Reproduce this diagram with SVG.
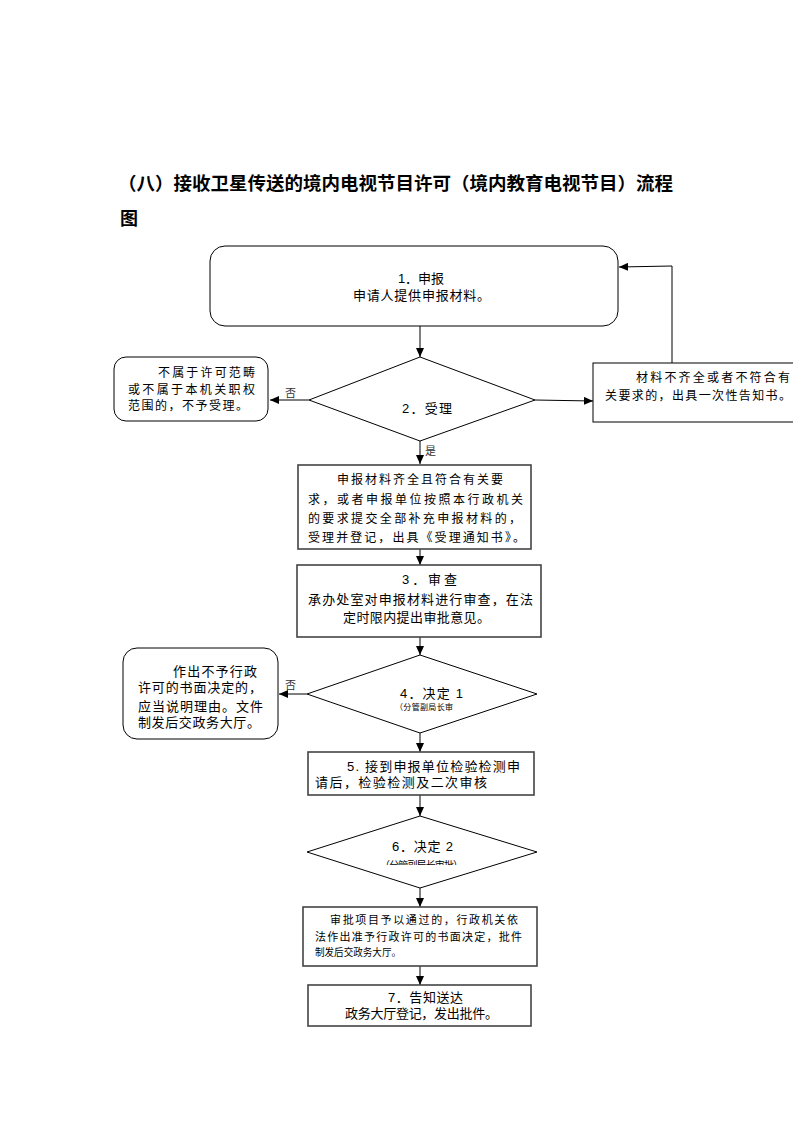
<svg xmlns="http://www.w3.org/2000/svg" width="793" height="1122" viewBox="0 0 793 1122">
<style>
text{font-family:"Liberation Sans","Noto Sans CJK SC",sans-serif;fill:#000}
.t{font-size:12px}
.m{font-size:13px}
.s{font-size:11px}
.lbl{font-size:11px;fill:#333;font-family:"Liberation Serif","Noto Sans CJK SC",serif}
.title{font-size:18px;font-weight:bold;font-family:"Noto Sans CJK SC",sans-serif}
.box{fill:#fff;stroke:#000;stroke-width:1}
.sbox{fill:#fff;stroke:#444;stroke-width:1.6}
.ln{fill:none;stroke:#000;stroke-width:1}
</style>
<defs>
<marker id="ah" markerUnits="userSpaceOnUse" markerWidth="10" markerHeight="8" refX="9" refY="4" orient="auto">
<path d="M0,0 L9,4 L0,8 z" fill="#000"/>
</marker>
<clipPath id="c6"><rect x="370" y="855" width="110" height="10"/></clipPath>
</defs>
<rect width="793" height="1122" fill="#fff"/>
<g id="title">
<text class="title" x="118" y="190" textLength="555" lengthAdjust="spacingAndGlyphs">（八）接收卫星传送的境内电视节目许可（境内教育电视节目）流程</text>
<text class="title" x="120" y="225">图</text>
</g>
<g id="connectors">
<line class="ln" x1="420" y1="326" x2="420" y2="357" marker-end="url(#ah)"/>
<line class="ln" x1="309" y1="400" x2="270" y2="400" marker-end="url(#ah)"/>
<line class="ln" x1="535" y1="400" x2="593" y2="401" marker-end="url(#ah)"/>
<polyline class="ln" points="672,363 672,266 619,267" marker-end="url(#ah)"/>
<line class="ln" x1="420" y1="441" x2="420" y2="464" marker-end="url(#ah)"/>
<line class="ln" x1="420" y1="549" x2="420" y2="565" marker-end="url(#ah)"/>
<line class="ln" x1="420" y1="637" x2="420" y2="655" marker-end="url(#ah)"/>
<line class="ln" x1="307" y1="694" x2="279" y2="694" marker-end="url(#ah)"/>
<line class="ln" x1="420" y1="733" x2="420" y2="752" marker-end="url(#ah)"/>
<line class="ln" x1="420" y1="795" x2="420" y2="816" marker-end="url(#ah)"/>
<line class="ln" x1="420" y1="888" x2="420" y2="907" marker-end="url(#ah)"/>
<line class="ln" x1="420" y1="966" x2="420" y2="985" marker-end="url(#ah)"/>
<text class="lbl" x="285" y="397">否</text>
<text class="lbl" x="425" y="455">是</text>
<text class="lbl" x="285" y="689">否</text>
</g>
<g id="n1">
<rect class="box" x="210" y="246" width="408" height="80" rx="15"/>
<text class="m" x="421" y="283" text-anchor="middle">1．申报</text>
<text class="m" x="353" y="300" textLength="137" lengthAdjust="spacing">申请人提供申报材料。</text>
</g>
<g id="n2">
<polygon class="box" points="420,357 535,400 420,441 309,400"/>
<text class="m" x="402" y="413" textLength="50" lengthAdjust="spacing">2．受理</text>
</g>
<g id="n_reject1">
<rect class="box" x="114" y="357" width="154" height="64" rx="12"/>
<text class="t" x="158" y="377" textLength="97" lengthAdjust="spacing">不属于许可范畴</text>
<text class="t" x="128" y="394" textLength="127" lengthAdjust="spacing">或不属于本机关职权</text>
<text class="t" x="128" y="410" textLength="120" lengthAdjust="spacing">范围的，不予受理。</text>
</g>
<g id="n_notice">
<rect class="box" x="593" y="363" width="210" height="59"/>
<text class="t" x="636" y="382" textLength="154" lengthAdjust="spacing">材料不齐全或者不符合有</text>
<text class="t" x="605" y="400" textLength="186" lengthAdjust="spacing">关要求的，出具一次性告知书。</text>
</g>
<g id="n_accept">
<rect class="sbox" x="298" y="465" width="233" height="84"/>
<text class="t" x="337" y="484" textLength="166" lengthAdjust="spacing">申报材料齐全且符合有关要</text>
<text class="t" x="308" y="504" textLength="215" lengthAdjust="spacing">求，或者申报单位按照本行政机关</text>
<text class="t" x="308" y="523" textLength="213" lengthAdjust="spacing">的要求提交全部补充申报材料的，</text>
<text class="t" x="308" y="542" textLength="217" lengthAdjust="spacing">受理并登记，出具《受理通知书》。</text>
</g>
<g id="n3">
<rect class="sbox" x="297" y="565" width="244" height="72"/>
<text class="m" x="402" y="584" textLength="55" lengthAdjust="spacing">3．审查</text>
<text class="m" x="308" y="604" textLength="225" lengthAdjust="spacing">承办处室对申报材料进行审查，在法</text>
<text class="m" x="343" y="622" textLength="147" lengthAdjust="spacing">定时限内提出审批意见。</text>
</g>
<g id="n4">
<polygon class="box" points="420,655 537,694 420,733 307,694"/>
<text class="m" x="400" y="698" textLength="63" lengthAdjust="spacing">4．决定 1</text>
<text x="395" y="710" style="font-size:8px" textLength="58" lengthAdjust="spacing">（分管副局长审</text>
</g>
<g id="n_reject2">
<rect class="box" x="123" y="648" width="155" height="91" rx="14"/>
<text class="m" x="173" y="676" textLength="84" lengthAdjust="spacing">作出不予行政</text>
<text class="m" x="138" y="692" textLength="124" lengthAdjust="spacing">许可的书面决定的，</text>
<text class="m" x="138" y="711" textLength="125" lengthAdjust="spacing">应当说明理由。文件</text>
<text class="m" x="138" y="727" textLength="122" lengthAdjust="spacing">制发后交政务大厅。</text>
</g>
<g id="n5">
<rect class="sbox" x="308" y="752" width="226" height="43"/>
<text class="m" x="347" y="771" textLength="173" lengthAdjust="spacing">5.  接到申报单位检验检测申</text>
<text class="m" x="315" y="787" textLength="172" lengthAdjust="spacing">请后，检验检测及二次审核</text>
</g>
<g id="n6">
<polygon class="box" points="420,816 537,852 420,888 307,852"/>
<text class="m" x="392" y="851" textLength="61" lengthAdjust="spacing">6．决定 2</text>
<text x="380" y="869" style="font-size:10px" clip-path="url(#c6)" textLength="83" lengthAdjust="spacing">（分管副局长审批）</text>
</g>
<g id="n_approve">
<rect class="sbox" x="303" y="907" width="234" height="59"/>
<text class="s" x="330" y="924" textLength="188" lengthAdjust="spacing">审批项目予以通过的，行政机关依</text>
<text class="s" x="315" y="941" textLength="207" lengthAdjust="spacing">法作出准予行政许可的书面决定，批件</text>
<text x="315" y="956" style="font-size:10px" textLength="86" lengthAdjust="spacingAndGlyphs">制发后交政务大厅。</text>
</g>
<g id="n7">
<rect class="sbox" x="308" y="985" width="223" height="41"/>
<text class="m" x="388" y="1002" textLength="75" lengthAdjust="spacing">7．告知送达</text>
<text class="m" x="345" y="1018" textLength="153" lengthAdjust="spacing">政务大厅登记，发出批件。</text>
</g>
</svg>
